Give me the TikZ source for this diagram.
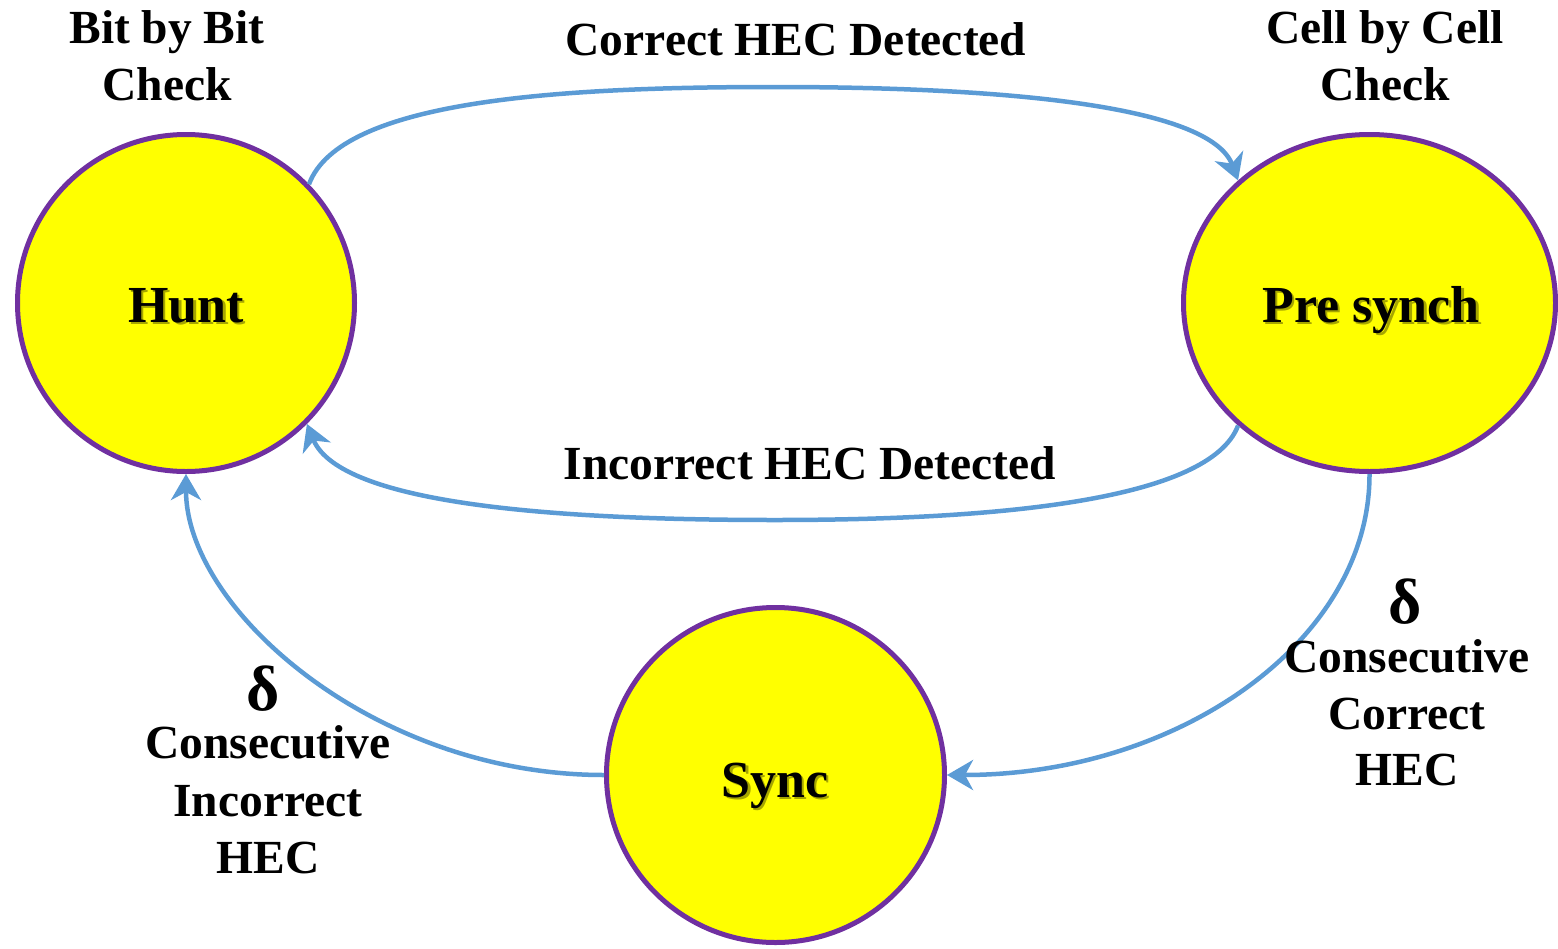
\documentclass[tikz,border=0pt]{standalone}
\usepackage{fontspec}
\setmainfont{Liberation Serif}
\usetikzlibrary{shapes.geometric,arrows.meta}
\definecolor{statefill}{HTML}{FFFF00}
\definecolor{stateline}{HTML}{7030A0}
\definecolor{arrowblue}{HTML}{5B9BD5}
\tikzset{
  state/.style={ellipse, draw=stateline, fill=statefill, line width=5pt, inner sep=0pt},
  statetext/.style={anchor=base, font=\bfseries\fontsize{52}{60}\selectfont, text=black},
  shadowtext/.style={anchor=base, font=\bfseries\fontsize{52}{60}\selectfont, text=black!35!statefill},
  lbl/.style={anchor=base, font=\bfseries\fontsize{47.5}{57}\selectfont, align=center},
  dlt/.style={anchor=base, font=\bfseries\fontsize{64}{70}\selectfont},
  trans/.style={draw=arrowblue, line width=4.5pt, -{Stealth[length=26pt,width=30pt,inset=8pt]}}
}
\begin{document}
\begin{tikzpicture}[x=1pt,y=-1pt]
\useasboundingbox (0,0) rectangle (1558,948);
% states
\node[state, minimum width=337pt, minimum height=337pt] (hunt) at (186,303) {};
\node[state, minimum width=372pt, minimum height=337pt] (pre) at (1369.5,303) {};
\node[state, minimum width=338pt, minimum height=335pt] (sync) at (775.5,775) {};
% state texts with shadow
\node[shadowtext] (huntsh) at (188.5,324.5) {Hunt};
\node[statetext] (hunttx) at (186,322) {Hunt};
\node[shadowtext] (presh) at (1373.5,324.5) {Pre synch};
\node[statetext] (pretx) at (1371,322) {Pre synch};
\node[shadowtext] (syncsh) at (777.5,799.5) {Sync};
\node[statetext] (synctx) at (775,797) {Sync};
% transitions
\draw[trans] (hunt.44) .. controls (340,100) and (560,87) .. (775,87)
  .. controls (1000,87) and (1210,105) .. (pre.137);
\draw[trans] (pre.223) .. controls (1210,500) and (1000,520) .. (775,520)
  .. controls (560,520) and (340,505) .. (hunt.315);
\draw[trans] (pre.south) .. controls (1370,640) and (1180,775) .. (sync.east);
\draw[trans] (sync.west) .. controls (374,775) and (186,609) .. (hunt.south);
% labels
\node[lbl] (l1a) at (167,43) {Bit by Bit};
\node[lbl] (l1b) at (167,100) {Check};
\node[lbl] (l2a) at (1385,43) {Cell by Cell};
\node[lbl] (l2b) at (1385,100) {Check};
\node[lbl] (l3) at (796,55) {Correct HEC Detected};
\node[lbl] (l4) at (810,479) {Incorrect HEC Detected};
\node[dlt] (d1) at (1405,623) {δ};
\node[lbl] (r1) at (1407,672) {Consecutive};
\node[lbl] (r2) at (1407,729) {Correct};
\node[lbl] (r3) at (1407,785) {HEC};
\node[dlt] (d2) at (263,710) {δ};
\node[lbl] (s1) at (268,758) {Consecutive};
\node[lbl] (s2) at (268,816) {Incorrect};
\node[lbl] (s3) at (268,873) {HEC};
\end{tikzpicture}
\end{document}
